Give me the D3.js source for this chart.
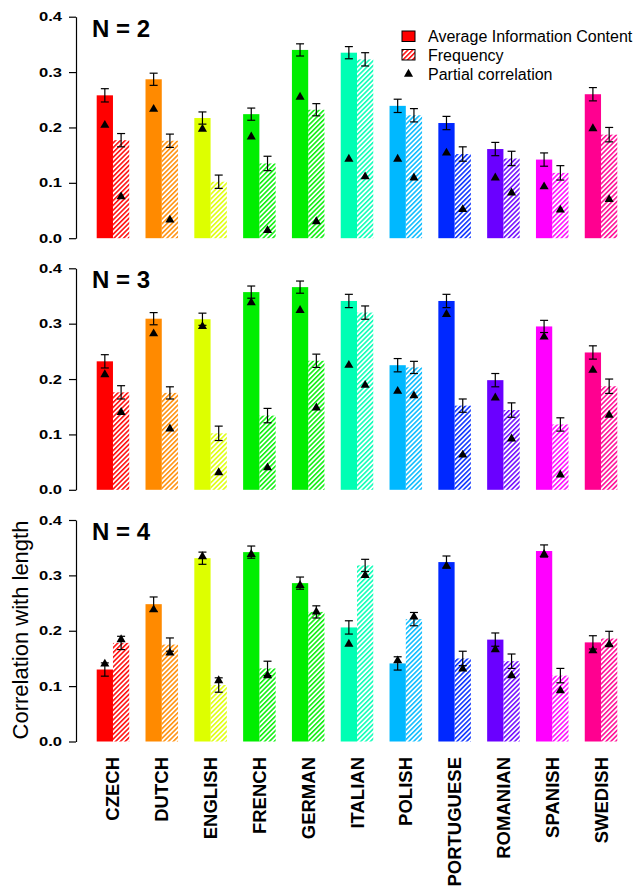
<!DOCTYPE html>
<html>
  <head>
    <title>Correlation with length</title>
    <script src="https://d3js.org/d3.v7.min.js"></script>
    <style>
      body { margin: 0; background: #fff; }
      text { font-family: "Liberation Sans", Arial, sans-serif; }
    </style>
  </head>
  <body>
    <svg width="633" height="891" id="mainsvg"></svg>
    <script>
        const languages = ['CZECH', 'DUTCH', 'ENGLISH', 'FRENCH', 'GERMAN', 'ITALIAN',
          'POLISH', 'PORTUGUESE', 'ROMANIAN', 'SPANISH', 'SWEDISH'];
        const colors = ['#ff0000', '#ff8a00', '#ddff00', '#00ee00', '#00ee00', '#00ffb4',
          '#00b8ff', '#0028ff', '#6a00ff', '#ff00ff', '#ff0090'];
        const panelNames = ['N = 2', 'N = 3', 'N = 4'];
        const yTicks = [0, 0.1, 0.2, 0.3, 0.4];

        // N = 2
        const aic2     = [0.258, 0.287, 0.217, 0.224, 0.340, 0.335, 0.239, 0.208, 0.161, 0.142, 0.260];
        const aicErr2  = [0.012, 0.011, 0.011, 0.011, 0.011, 0.011, 0.012, 0.012, 0.012, 0.012, 0.012];
        const freq2    = [0.177, 0.176, 0.102, 0.135, 0.232, 0.323, 0.222, 0.152, 0.144, 0.118, 0.187];
        const freqErr2 = [0.012, 0.012, 0.012, 0.013, 0.011, 0.012, 0.012, 0.013, 0.013, 0.013, 0.013];
        const pcAic2   = [0.204, 0.233, 0.197, 0.183, 0.255, 0.143, 0.143, 0.154, 0.109, 0.093, 0.198];
        const pcFreq2  = [0.075, 0.033, null, 0.014, 0.030, 0.111, 0.109, 0.052, 0.082, 0.051, 0.070];

        // N = 3
        const aic3     = [0.232, 0.309, 0.308, 0.357, 0.366, 0.341, 0.225, 0.341, 0.198, 0.295, 0.248];
        const aicErr3  = [0.012, 0.011, 0.011, 0.011, 0.011, 0.012, 0.012, 0.012, 0.012, 0.011, 0.012];
        const freq3    = [0.176, 0.175, 0.102, 0.134, 0.233, 0.320, 0.221, 0.152, 0.144, 0.118, 0.187];
        const freqErr3 = [0.012, 0.011, 0.013, 0.013, 0.012, 0.012, 0.011, 0.012, 0.013, 0.012, 0.013];
        const pcAic3   = [0.208, 0.282, 0.295, 0.338, 0.324, 0.225, 0.178, 0.317, 0.166, 0.276, 0.216];
        const pcFreq3  = [0.140, 0.110, 0.031, 0.040, 0.148, 0.189, 0.170, 0.063, 0.092, 0.027, 0.135];

        // N = 4
        const aic4     = [0.130, 0.248, 0.331, 0.342, 0.286, 0.206, 0.141, 0.324, 0.184, 0.344, 0.179];
        const aicErr4  = [0.012, 0.013, 0.011, 0.011, 0.011, 0.012, 0.012, 0.011, 0.012, 0.011, 0.012];
        const freq4    = [0.178, 0.175, 0.102, 0.132, 0.234, 0.318, 0.221, 0.150, 0.145, 0.119, 0.186];
        const freqErr4 = [0.012, 0.012, 0.013, 0.013, 0.011, 0.011, 0.012, 0.013, 0.013, 0.013, 0.013];
        const pcAic4   = [0.140, 0.238, 0.334, 0.338, 0.282, 0.176, 0.146, 0.317, 0.166, 0.338, 0.164];
        const pcFreq4  = [0.184, 0.160, 0.110, 0.119, 0.234, 0.300, 0.225, 0.131, 0.119, 0.092, 0.175];

        const panels = [
          {aic: aic2, aicErr: aicErr2, freq: freq2, freqErr: freqErr2, pcAic: pcAic2, pcFreq: pcFreq2},
          {aic: aic3, aicErr: aicErr3, freq: freq3, freqErr: freqErr3, pcAic: pcAic3, pcFreq: pcFreq3},
          {aic: aic4, aicErr: aicErr4, freq: freq4, freqErr: freqErr4, pcAic: pcAic4, pcFreq: pcFreq4}
        ];

        const svg = d3.select('#mainsvg');
        const panelTop = [16.7, 268.3, 520];
        const panelH = 221.5;
        const axisX = 76;

        // hatch patterns, one per colour
        const defs = svg.append('defs');
        colors.forEach((c, i) => {
          const p = defs.append('pattern').attr('id', 'hatch' + i)
            .attr('patternUnits', 'userSpaceOnUse')
            .attr('width', 3.4).attr('height', 10)
            .attr('patternTransform', 'rotate(45)');
          p.append('line').attr('x1', 0.8).attr('y1', 0).attr('x2', 0.8).attr('y2', 10)
            .attr('stroke', c).attr('stroke-width', 1.5);
        });

        const xScale = d3.scaleBand()
          .domain(languages)
          .range([96.7, 617.3])
          .paddingInner(1/3)
          .paddingOuter(0);
        const xInner = d3.scaleBand()
          .domain(['aic', 'freq'])
          .range([0, xScale.bandwidth()]);
        const bw = xInner.bandwidth();

        const tri = d3.symbol().type(d3.symbolTriangle).size(36);

        panels.forEach((pd, k) => {
          const yScale = d3.scaleLinear().domain([0, 0.4]).range([panelTop[k] + panelH, panelTop[k]]);
          const g = svg.append('g');

          // axis
          const yAxis = d3.axisLeft(yScale).tickValues(yTicks)
            .tickFormat(d3.format('.1f')).tickSize(7).tickSizeOuter(0).tickPadding(7);
          const ag = g.append('g').attr('transform', `translate(${axisX},0)`).call(yAxis);
          ag.selectAll('path, line').attr('stroke', '#000').attr('stroke-width', 1.2);
          ag.selectAll('text').attr('font-size', 13).attr('font-weight', 'bold')
            .attr('fill', '#000').attr('font-family', '"Liberation Sans", Arial, sans-serif')
            .attr('textLength', 23).attr('lengthAdjust', 'spacingAndGlyphs');

          // bars
          languages.forEach((lang, i) => {
            const x0 = xScale(lang);
            g.append('rect').attr('x', x0 + xInner('aic')).attr('width', bw)
              .attr('y', yScale(pd.aic[i])).attr('height', yScale(0) - yScale(pd.aic[i]))
              .attr('fill', colors[i]);
            g.append('rect').attr('x', x0 + xInner('freq')).attr('width', bw)
              .attr('y', yScale(pd.freq[i])).attr('height', yScale(0) - yScale(pd.freq[i]))
              .attr('fill', `url(#hatch${i})`);

            [['aic', pd.aic[i], pd.aicErr[i]], ['freq', pd.freq[i], pd.freqErr[i]]].forEach(([s, v, e]) => {
              const cx = x0 + xInner(s) + bw / 2;
              const eg = g.append('g').attr('stroke', '#000').attr('stroke-width', 1.2);
              eg.append('line').attr('x1', cx).attr('x2', cx)
                .attr('y1', yScale(v - e)).attr('y2', yScale(v + e));
              eg.append('line').attr('x1', cx - 4).attr('x2', cx + 4)
                .attr('y1', yScale(v - e)).attr('y2', yScale(v - e));
              eg.append('line').attr('x1', cx - 4).attr('x2', cx + 4)
                .attr('y1', yScale(v + e)).attr('y2', yScale(v + e));
            });

            [['aic', pd.pcAic[i]], ['freq', pd.pcFreq[i]]].forEach(([s, v]) => {
              if (v === null) return;
              g.append('path').attr('d', tri)
                .attr('transform', `translate(${x0 + xInner(s) + bw / 2},${yScale(v)})`)
                .attr('fill', '#000');
            });
          });

          g.append('text').text(panelNames[k])
            .attr('x', 92).attr('y', panelTop[k] + 20)
            .attr('font-size', 24).attr('font-weight', 'bold');
        });

        // legend
        const lg = svg.append('g');
        lg.append('rect').attr('x', 402).attr('y', 31).attr('width', 13).attr('height', 10.5)
          .attr('fill', colors[0]).attr('stroke', '#000').attr('stroke-width', 1);
        lg.append('rect').attr('x', 402).attr('y', 49.5).attr('width', 13).attr('height', 10.5)
          .attr('fill', 'url(#hatch0)').attr('stroke', '#000').attr('stroke-width', 1);
        lg.append('path').attr('d', tri).attr('transform', 'translate(408.5,74)').attr('fill', '#000');
        ['Average Information Content', 'Frequency', 'Partial correlation'].forEach((t, i) => {
          lg.append('text').text(t).attr('x', 428).attr('y', 36.5 + i * 18.8)
            .attr('dominant-baseline', 'central').attr('font-size', 16);
        });

        // y title
        svg.append('text').text('Correlation with length')
          .attr('transform', 'translate(28,630) rotate(-90)')
          .attr('text-anchor', 'middle').attr('font-size', 22);

        // x labels
        languages.forEach(lang => {
          const cx = xScale(lang) + xScale.bandwidth() / 2;
          svg.append('text').text(lang)
            .attr('transform', `translate(${cx},757) rotate(-90)`)
            .attr('text-anchor', 'end').attr('dominant-baseline', 'central')
            .attr('font-size', 18.5).attr('font-weight', 'bold');
        });
    </script>
  </body>
</html>
